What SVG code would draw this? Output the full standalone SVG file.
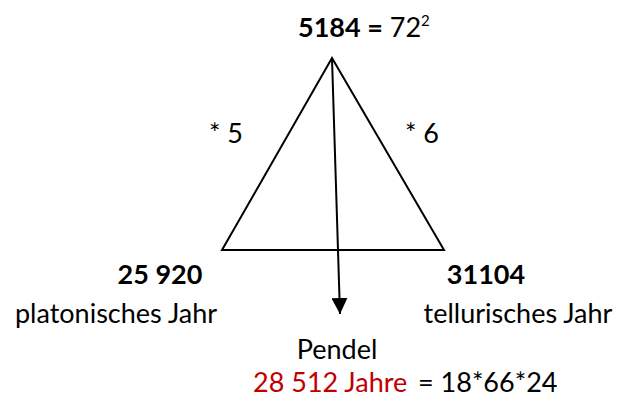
<svg xmlns="http://www.w3.org/2000/svg" width="617" height="399" viewBox="0 0 617 399">
<defs>
<style>
text{font-family:Lato,"Open Sans","Liberation Sans",sans-serif;font-size:27px;fill:#000}
.b{font-weight:bold}
.red{fill:#C00000}
.shape{fill:none;stroke:#000;stroke-width:2}
</style>
<marker id="arr" viewBox="0 0 16 16" refX="16" refY="8" markerWidth="16" markerHeight="16" orient="auto" markerUnits="userSpaceOnUse">
<path d="M0,0 L16,8 L0,16 z" fill="#000"/>
</marker>
</defs>
<rect width="617" height="399" fill="#fff"/>
<g id="triangle">
<polygon class="shape" points="332,58 222,250 444,250"/>
</g>
<g id="top">
<text x="298" y="37"><tspan class="b">5184 =</tspan> 72<tspan font-size="15" dy="-11">2</tspan></text>
</g>
<g id="left-factor"><text x="226" y="143" text-anchor="middle">* 5</text></g>
<g id="right-factor"><text x="422" y="143" text-anchor="middle">* 6</text></g>
<g id="left">
<text class="b" x="160" y="284" text-anchor="middle">25 920</text>
<text x="116" y="323" text-anchor="middle">platonisches Jahr</text>
</g>
<g id="right">
<text class="b" x="486" y="284" text-anchor="middle">31104</text>
<text x="518" y="323" text-anchor="middle">tellurisches Jahr</text>
</g>
<g id="pendel">
<text x="337" y="359" text-anchor="middle">Pendel</text>
<text x="253" y="392"><tspan class="red">28 512 Jahre</tspan><tspan x="418">= 18*66*24</tspan></text>
</g>
<g id="connectors">
<line class="shape" x1="332" y1="58" x2="340" y2="314" marker-end="url(#arr)"/>
</g>
</svg>
